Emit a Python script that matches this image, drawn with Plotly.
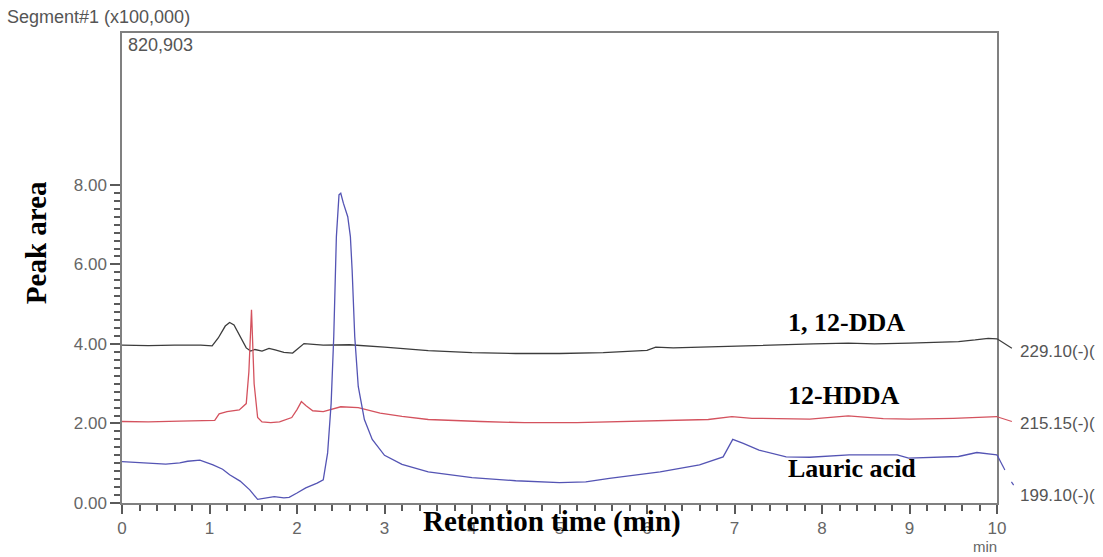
import plotly.graph_objects as go

# ---- data ----
dda_t = [0, 0.3, 0.6, 0.9, 1.03, 1.1, 1.18, 1.23, 1.28, 1.35, 1.42, 1.47, 1.52, 1.6, 1.68, 1.75, 1.85, 1.95, 2.02, 2.08,
         2.3, 2.6, 3.0, 3.5, 4.0, 4.5, 5.0, 5.5, 6.0, 6.1, 6.3, 7.0, 7.5, 7.9, 8.3, 8.6, 9.0, 9.3, 9.56, 9.75, 9.9, 10.0]
dda_v = [3.97, 3.96, 3.97, 3.97, 3.95, 4.15, 4.45, 4.54, 4.48, 4.2, 3.9, 3.82, 3.86, 3.82, 3.89, 3.85, 3.79, 3.77, 3.9, 4.01,
         3.97, 3.98, 3.92, 3.83, 3.78, 3.76, 3.76, 3.78, 3.84, 3.92, 3.9, 3.95, 3.97, 4.0, 4.02, 4.0, 4.02, 4.04, 4.06, 4.1, 4.14, 4.13]

hdda_t = [0, 0.3, 0.66, 1.0, 1.06, 1.11, 1.2, 1.34, 1.42, 1.45, 1.48, 1.51, 1.55, 1.6, 1.7, 1.8, 1.94, 2.0, 2.05, 2.1,
          2.18, 2.3, 2.5, 2.7, 2.95, 3.2, 3.5, 4.1, 4.6, 5.2, 5.6, 6.15, 6.7, 6.97, 7.2, 7.86, 8.3, 8.7, 9.0, 9.5, 9.8, 10.0]
hdda_v = [2.05, 2.04, 2.06, 2.07, 2.08, 2.24, 2.3, 2.34, 2.5, 3.3, 4.86, 3.0, 2.15, 2.04, 2.02, 2.04, 2.15, 2.35, 2.55, 2.45,
          2.32, 2.3, 2.42, 2.4, 2.26, 2.18, 2.1, 2.05, 2.02, 2.02, 2.04, 2.08, 2.1, 2.17, 2.13, 2.11, 2.19, 2.12, 2.11, 2.13, 2.16, 2.17]

lauric_t = [0, 0.2, 0.5, 0.66, 0.75, 0.89, 1.04, 1.15, 1.23, 1.35, 1.46, 1.55, 1.65, 1.74, 1.85, 1.91, 2.0, 2.1, 2.23, 2.3,
            2.35, 2.39, 2.42, 2.45, 2.48, 2.5, 2.53, 2.58, 2.61, 2.63, 2.66, 2.7, 2.77, 2.86, 3.0, 3.2, 3.5, 4.0, 4.5, 5.0,
            5.3, 5.57, 6.15, 6.6, 6.87, 6.98, 7.1, 7.28, 7.59, 7.86, 8.31, 8.86, 8.99, 9.3, 9.56, 9.77, 9.9, 10.0]
lauric_v = [1.04, 1.02, 0.98, 1.01, 1.05, 1.08, 0.96, 0.85, 0.71, 0.55, 0.33, 0.09, 0.12, 0.16, 0.13, 0.14, 0.25, 0.38, 0.5, 0.58,
            1.26, 2.5, 4.18, 6.7, 7.75, 7.79, 7.54, 7.2, 6.7, 5.86, 4.18, 2.93, 2.1, 1.6, 1.2, 0.97, 0.78, 0.64, 0.56, 0.51,
            0.53, 0.62, 0.78, 0.96, 1.16, 1.6, 1.5, 1.33, 1.16, 1.15, 1.21, 1.21, 1.13, 1.15, 1.17, 1.27, 1.24, 1.21]

series_names = ["1, 12-DDA", "12-HDDA", "Lauric acid"]
mz_labels = ["229.10(-)(", "215.15(-)(", "199.10(-)("]
y_tick_vals = [0, 2, 4, 6, 8]
y_tick_text = ["0.00", "2.00", "4.00", "6.00", "8.00"]
x_tick_vals = list(range(0, 11))

# ---- styles ----
colors = ["#3c3c3c", "#d4525e", "#5454b4"]
Y_MAX = 11.82
SANS = "Liberation Sans, Arial, sans-serif"
SERIF = "Liberation Serif, Times New Roman, serif"
GRAY = "#666666"

fig = go.Figure()
for t, v, c, n in [(dda_t, dda_v, colors[0], series_names[0]),
                   (hdda_t, hdda_v, colors[1], series_names[1]),
                   (lauric_t, lauric_v, colors[2], series_names[2])]:
    fig.add_trace(go.Scatter(x=t, y=v, mode="lines", name=n,
                             line=dict(color=c, width=1.3), showlegend=False))

def yp(val):
    return val / Y_MAX

# short connector lines from trace ends to the m/z labels
shapes = [
    dict(type="line", xref="paper", yref="paper", x0=1.0, y0=yp(dda_v[-1]), x1=1.017, y1=yp(3.89),
         line=dict(color=colors[0], width=1.2)),
    dict(type="line", xref="paper", yref="paper", x0=1.0, y0=yp(hdda_v[-1]), x1=1.017, y1=yp(2.05),
         line=dict(color=colors[1], width=1.2)),
    dict(type="line", xref="paper", yref="paper", x0=1.0, y0=yp(lauric_v[-1]), x1=1.009, y1=yp(0.83),
         line=dict(color=colors[2], width=1.2)),
    dict(type="line", xref="paper", yref="paper", x0=1.0165, y0=yp(0.53), x1=1.019, y1=yp(0.45),
         line=dict(color=colors[2], width=1.2)),
]

annotations = [
    dict(text="Segment#1 (x100,000)", xref="paper", yref="paper", x=-0.1337, y=1.034,
         xanchor="left", yanchor="middle", showarrow=False, font=dict(family=SANS, size=18, color="#555555")),
    dict(text="820,903", xref="paper", yref="paper", x=0.004, y=0.974,
         xanchor="left", yanchor="middle", showarrow=False, font=dict(family=SANS, size=18, color="#555555")),
    dict(text="min", xref="paper", yref="paper", x=0.986, y=-0.0925,
         xanchor="center", yanchor="middle", showarrow=False, font=dict(family=SANS, size=15, color=GRAY)),
    dict(text="<b>Peak area</b>", xref="paper", yref="paper", x=-0.0983, y=0.555, textangle=-90,
         xanchor="center", yanchor="middle", showarrow=False, font=dict(family=SERIF, size=29, color="black")),
    dict(text="<b>Retention time (min)</b>", xref="paper", yref="paper", x=0.4914, y=-0.040,
         xanchor="center", yanchor="middle", showarrow=False, font=dict(family=SERIF, size=29, color="black")),
]
label_y = [4.55, 2.70, 0.88]
for name, ly in zip(series_names, label_y):
    annotations.append(dict(text="<b>%s</b>" % name, x=7.59, y=ly, xref="x", yref="y",
                            xanchor="left", yanchor="middle", showarrow=False,
                            font=dict(family=SERIF, size=26, color="black")))
mz_y = [3.8, 2.01, 0.18]
for lab, ly in zip(mz_labels, mz_y):
    annotations.append(dict(text=lab, xref="paper", yref="y", x=1.024, y=ly,
                            xanchor="left", yanchor="middle", showarrow=False,
                            font=dict(family=SANS, size=17, color="#555555")))

minor_y = [round(i * 0.2, 1) for i in range(41) if i % 10 != 0]
minor_x = [round(i * 0.2, 1) for i in range(51) if i % 5 != 0]

fig.update_layout(
    width=1103, height=557,
    margin=dict(l=122, r=106, t=33, b=54),
    paper_bgcolor="white", plot_bgcolor="white",
    shapes=shapes, annotations=annotations,
    xaxis=dict(range=[0, 10], showgrid=False, zeroline=False,
               showline=True, linecolor="#808080", linewidth=1.5, mirror=True,
               ticks="outside", tickvals=x_tick_vals, ticklen=9, tickwidth=1.5, tickcolor="#5a5a5a",
               tickfont=dict(family=SANS, size=17, color=GRAY),
               minor=dict(ticks="outside", tickmode="array", tickvals=minor_x, ticklen=6, tickwidth=1.5,
                          tickcolor="#5a5a5a", showgrid=False)),
    yaxis=dict(range=[0, Y_MAX], showgrid=False, zeroline=False,
               showline=True, linecolor="#808080", linewidth=1.5, mirror=True,
               ticks="outside", tickvals=y_tick_vals, ticktext=y_tick_text, ticklen=10, tickwidth=1.5,
               tickcolor="#5a5a5a", ticklabelstandoff=0,
               tickfont=dict(family=SANS, size=17, color=GRAY),
               minor=dict(ticks="outside", tickmode="array", tickvals=minor_y, ticklen=6, tickwidth=1.5,
                          tickcolor="#5a5a5a", showgrid=False)),
)

fig.write_html("out.html")
